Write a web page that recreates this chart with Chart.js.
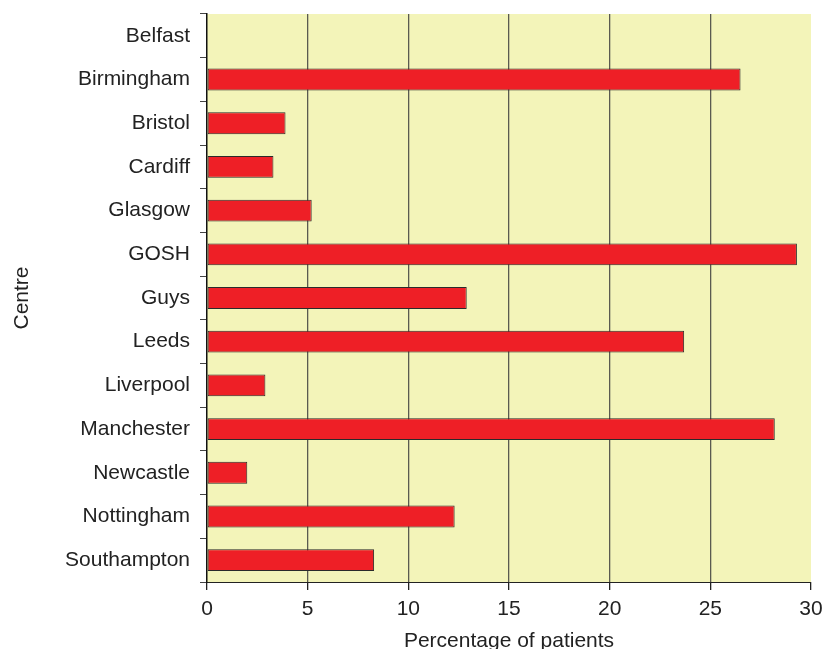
<!doctype html>
<html>
<head>
    <title>Percentage of patients by centre</title>
    <meta charset="utf-8">
    <script src="https://cdn.jsdelivr.net/npm/chart.js@4.4.1/dist/chart.umd.min.js"></script>
    <style>
    body { margin: 0; background: #fff; }
    canvas { display: block; }
    </style>
</head>
<body>
    <canvas id="canvasCentres" width="824" height="649"></canvas>
    <script>
        var centres = ["Belfast", "Birmingham", "Bristol", "Cardiff", "Glasgow", "GOSH", "Guys",
            "Leeds", "Liverpool", "Manchester", "Newcastle", "Nottingham", "Southampton"];
        var pourcentages = [0, 26.5, 3.9, 3.3, 5.2, 29.3, 12.9, 23.7, 2.9, 28.2, 2.0, 12.3, 8.3];
        var ticksX = [0, 5, 10, 15, 20, 25, 30];

        // fond jaune seulement dans la zone du graphique
        var fondJaune = {
            id: 'fondJaune',
            beforeDraw: function(chart) {
                var a = chart.chartArea;
                var ctx = chart.ctx;
                ctx.save();
                ctx.fillStyle = '#f3f4b9';
                ctx.fillRect(a.left, a.top, a.right - a.left, a.bottom - a.top);
                ctx.restore();
            }
        };

        var police = { family: "'Liberation Sans', Arial, sans-serif", size: 21 };

        var ctx = document.getElementById("canvasCentres").getContext("2d");
        window.myBar = new Chart(ctx, {
            type: 'bar',
            data: {
                labels: centres,
                datasets: [{
                    label: "Percentage of patients",
                    data: pourcentages,
                    backgroundColor: "#ee1f26",
                    borderColor: "#2a2a2a",
                    borderWidth: 1,
                    borderSkipped: false,
                    barPercentage: 0.5,
                    categoryPercentage: 1
                }]
            },
            plugins: [fondJaune],
            options: {
                indexAxis: 'y',
                responsive: false,
                animation: false,
                layout: { padding: { top: 14, right: 13, left: 0, bottom: 0 } },
                plugins: {
                    legend: { display: false },
                    tooltip: { enabled: false }
                },
                scales: {
                    x: {
                        min: 0,
                        max: 30,
                        afterBuildTicks: function(scale) {
                            scale.ticks = ticksX.map(function(v) { return { value: v }; });
                        },
                        afterFit: function(scale) {
                            scale.height = 67;
                            scale.paddingLeft = 0;
                            scale.paddingRight = 0;
                        },
                        border: { display: true, color: '#222', width: 1 },
                        grid: {
                            color: function(c) {
                                var v = c.tick ? c.tick.value : null;
                                return (v === 0 || v === 30) ? 'rgba(0,0,0,0)' : '#5a5a50';
                            },
                            lineWidth: 1.3,
                            tickColor: '#222',
                            tickLength: 8
                        },
                        ticks: { color: '#222', font: police, padding: 7, maxRotation: 0 },
                        title: {
                            display: true,
                            text: 'Percentage of patients',
                            color: '#222',
                            font: police,
                            padding: { top: 0, bottom: -5 }
                        }
                    },
                    y: {
                        afterFit: function(scale) {
                            scale.width = 207;
                            scale.paddingTop = 0;
                            scale.paddingBottom = 0;
                        },
                        border: { display: true, color: '#111', width: 1.5 },
                        grid: {
                            offset: true,
                            drawOnChartArea: false,
                            tickColor: '#444',
                            tickLength: 7
                        },
                        ticks: { color: '#222', font: police, padding: 10, autoSkip: false },
                        title: {
                            display: true,
                            text: 'Centre',
                            color: '#222',
                            font: police,
                            padding: { top: 10, bottom: 0 }
                        }
                    }
                }
            }
        });
    </script>
</body>
</html>
